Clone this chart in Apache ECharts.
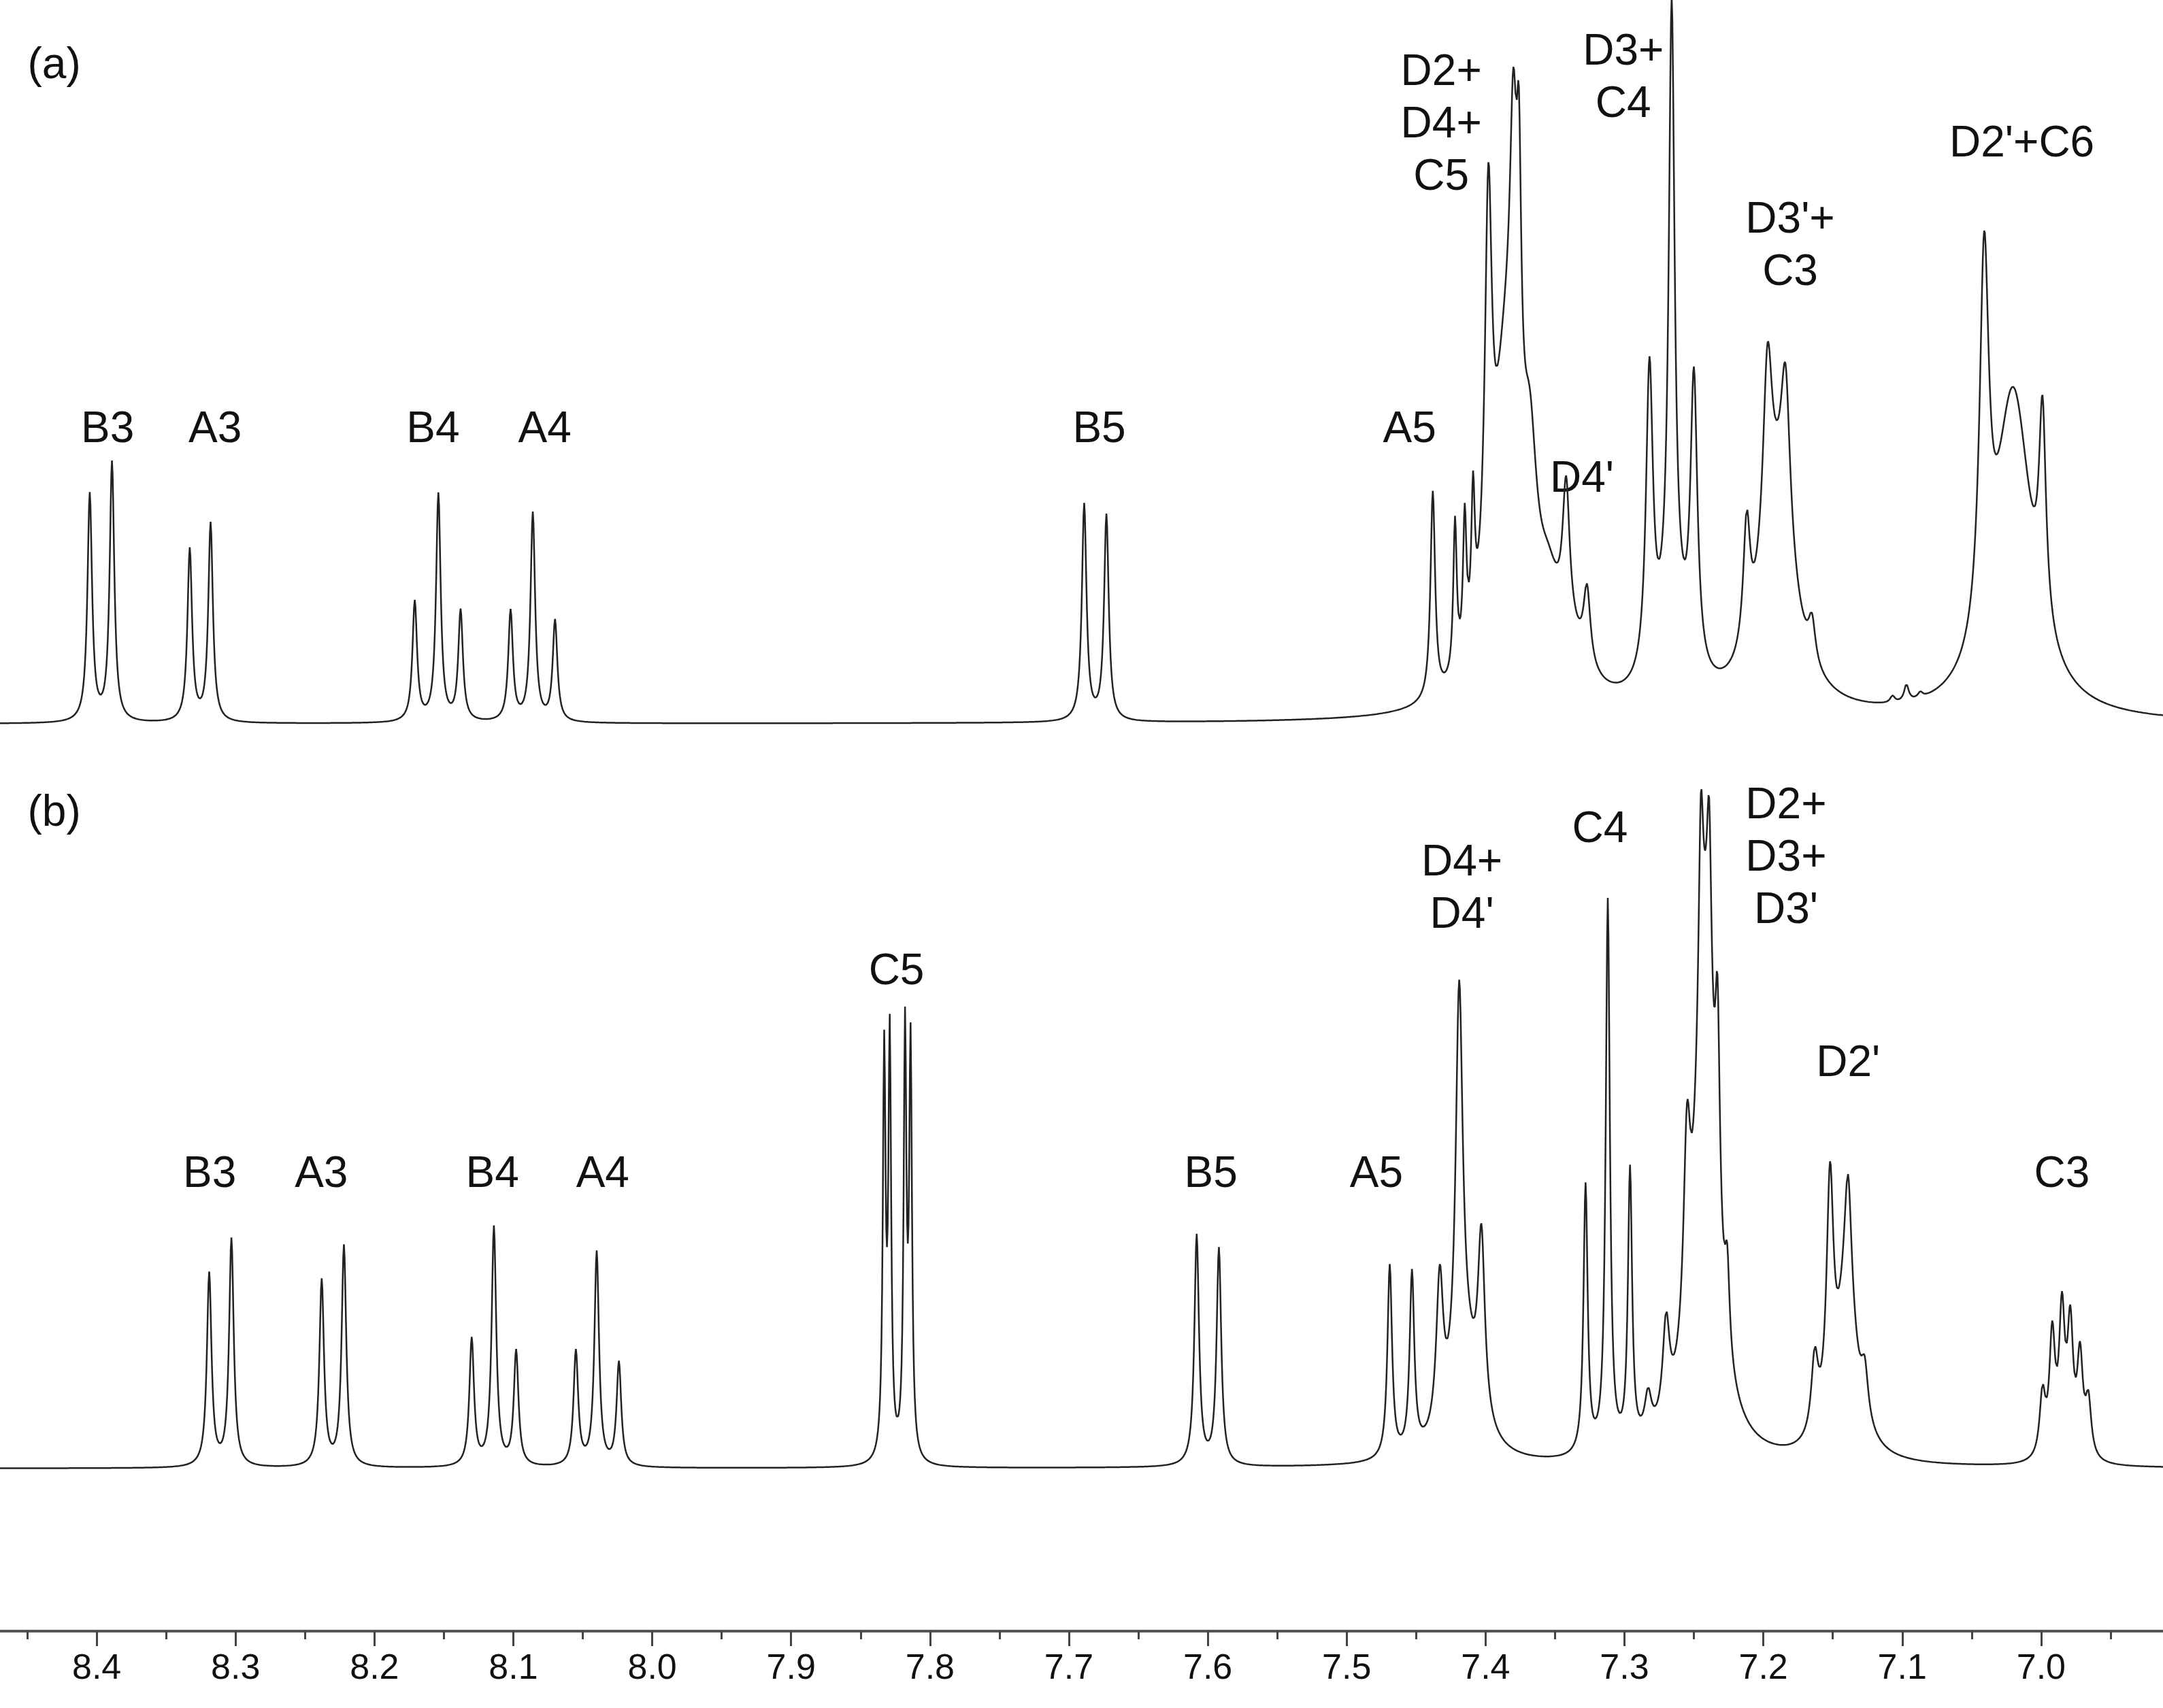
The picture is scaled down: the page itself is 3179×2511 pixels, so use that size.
<!DOCTYPE html>
<html>
<head>
<meta charset="utf-8">
<script src="https://cdn.jsdelivr.net/npm/echarts@6/dist/echarts.min.js"></script>
<style>html,body{margin:0;padding:0;background:#fff}#main{width:3179px;height:2511px}</style>
</head>
<body>
<div id="main"></div>
<script>
// peak lists: [ppm, height, half-width]
var peaksA = [
  [8.405,165,.002],[8.389,188,.002],[8.333,125,.002],[8.318,144,.002],
  [8.171,87,.002],[8.154,165,.002],[8.138,80,.002],
  [8.102,80,.002],[8.086,151,.002],[8.070,73,.002],
  [7.689,157,.002],[7.673,149,.002],
  [7.438,150,.002],[7.422,110,.0015],[7.415,100,.0015],[7.409,100,.0015],
  [7.385,230,.012],[7.398,280,.003],[7.380,200,.003],[7.376,180,.002],[7.368,110,.006],[7.355,50,.01],
  [7.342,100,.003],[7.327,55,.003],[7.34,30,.015],
  [7.282,220,.003],[7.266,440,.0025],[7.250,210,.003],[7.266,60,.012],
  [7.19,140,.015],[7.212,90,.003],[7.197,140,.004],[7.184,120,.004],[7.165,30,.003],
  [7.107,5,.002],[7.097,12,.002],[7.087,4,.002],
  [7.02,230,.016],[7.041,270,.004],[6.999,150,.003]
];
var peaksB = [
  [8.319,140,.002],[8.303,165,.002],[8.238,135,.002],[8.222,160,.002],
  [8.130,92,.002],[8.114,173,.002],[8.098,83,.002],
  [8.055,83,.002],[8.040,155,.002],[8.024,75,.002],
  [7.833,290,.0012],[7.829,300,.0012],[7.818,305,.0012],[7.814,295,.0012],
  [7.608,167,.002],[7.592,157,.002],[7.469,140,.002],[7.453,130,.002],
  [7.415,70,.012],[7.433,110,.003],[7.419,280,.003],[7.403,130,.003],
  [7.328,195,.0018],[7.312,400,.0018],[7.296,200,.0018],
  [7.242,340,.009],[7.283,30,.003],[7.270,70,.003],[7.255,140,.003],
  [7.245,150,.002],[7.239,140,.002],[7.233,160,.002],[7.226,60,.002],
  [7.14,110,.009],[7.163,55,.003],[7.152,170,.003],[7.139,90,.003],[7.127,35,.003],
  [6.999,45,.0025],[6.992,85,.0025],[6.985,100,.0025],[6.979,90,.0025],[6.972,70,.0025],[6.966,40,.0025]
];
var offsetA = 658, offsetB = 118;
var tickLabels = ['8.4','8.3','8.2','8.1','8.0','7.9','7.8','7.7','7.6','7.5','7.4','7.3','7.2','7.1','7.0'];
var labelsA = [['(a)',40,48],['B3',78,312],['A3',156,312],['B4',314,312],['A4',395,312],['B5',797,312],
  ['A5',1022,312],["D4'",1147,348],['D2+\nD4+\nC5',1045,91],['D3+\nC4',1177,57],["D3'+\nC3",1298,179],["D2'+C6",1466,105]];
var labelsB = [['(b)',40,590],['B3',152,852],['A3',233,852],['B4',357,852],['A4',437,852],['C5',650,705],
  ['B5',878,852],['A5',998,852],["D4+\nD4'",1060,645],['C4',1160,602],["D2+\nD3+\nD3'",1295,623],["D2'",1340,772],['C3',1495,852]];

var s = 2.027;

function spectrum(peaks, offset) {
  var out = [];
  for (var i = 0; i <= 3200; i++) {
    var x = 6.90 + i * 0.0005, y = offset;
    peaks.forEach(function (p) { var d = x - p[0]; y += p[1] * p[2] * p[2] / (d * d + p[2] * p[2]); });
    out.push([x, y]);
  }
  return out;
}

var texts = labelsA.concat(labelsB).map(function (l) {
  var left = l[0].charAt(0) === '(';
  return {
    type: 'text', x: (left ? 20 : l[1]) * s, y: l[2] * s,
    style: { text: l[0], fontSize: 64, lineHeight: 77, fontFamily: 'Liberation Sans, Arial',
      fill: '#111', align: left ? 'left' : 'center', verticalAlign: 'middle' }
  };
});

var chart = echarts.init(document.getElementById('main'));
chart.setOption({
  animation: false,
  grid: { left: -62, right: -25, top: 0, bottom: 113, outerBoundsMode: 'none', containLabel: false },
  xAxis: {
    type: 'value', inverse: true, min: 6.9, max: 8.5, interval: 0.1,
    axisLine: { lineStyle: { color: '#555', width: 4 } },
    axisTick: { length: 22, lineStyle: { color: '#444', width: 3 } },
    minorTick: { show: true, splitNumber: 2, length: 12, lineStyle: { color: '#444', width: 3 } },
    splitLine: { show: false },
    axisLabel: { fontSize: 52, color: '#111', fontFamily: 'Liberation Sans, Arial', margin: 30,
      formatter: function (v) { var t = v.toFixed(1); return tickLabels.indexOf(t) >= 0 ? t : ''; } }
  },
  yAxis: { type: 'value', min: 0, max: 1183, show: false },
  series: [
    { type: 'line', data: spectrum(peaksA, offsetA), showSymbol: false, lineStyle: { color: '#222', width: 2.5 } },
    { type: 'line', data: spectrum(peaksB, offsetB), showSymbol: false, lineStyle: { color: '#222', width: 2.5 } }
  ],
  graphic: texts
});
</script>
</body>
</html>
